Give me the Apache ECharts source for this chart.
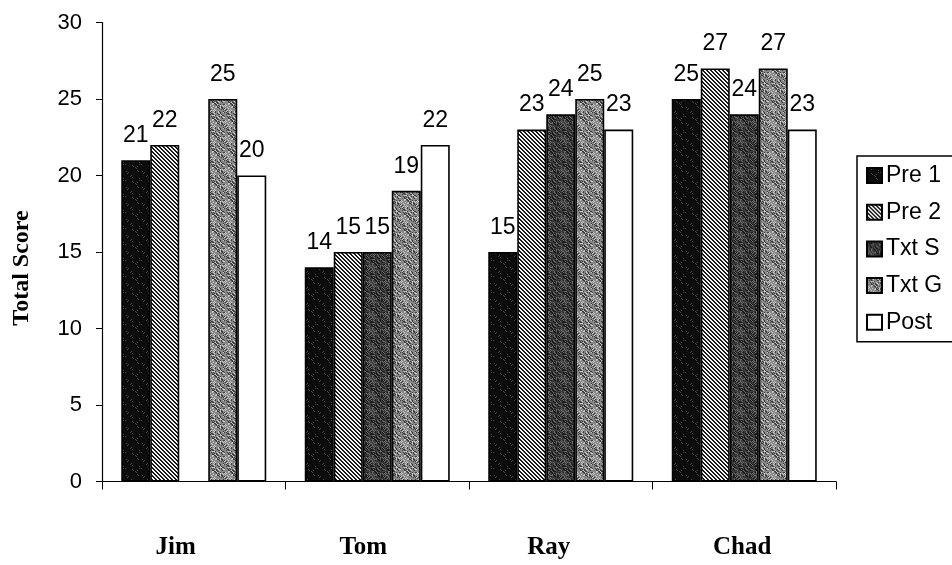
<!DOCTYPE html>
<html>
<head>
<meta charset="utf-8">
<title>Total Score</title>
<script src="https://cdn.jsdelivr.net/npm/echarts@6/dist/echarts.min.js"></script>
<style>
  html, body { margin: 0; padding: 0; background: #fff; }
  #chart { width: 952px; height: 565px; }
</style>
</head>
<body>
<div id="chart"></div>
<script>
// Scores per student for each assessment phase
const students = ['Jim', 'Tom', 'Ray', 'Chad'];
const pre1 = [21, 14, 15, 25];
const pre2 = [22, 15, 23, 27];
const txtS = [null, 15, 24, 24];
const txtG = [25, 19, 25, 27];
const post = [20, 22, 23, 23];
const seriesNames = ['Pre 1', 'Pre 2', 'Txt S', 'Txt G', 'Post'];
const yTicks = { min: 0, max: 30, step: 5 };

// Small print-style fill textures built on a canvas tile
function tile(pixel) {
  const n = 16;
  const c = document.createElement('canvas');
  c.width = n; c.height = n;
  const ctx = c.getContext('2d');
  const img = ctx.createImageData(n, n);
  for (let y = 0; y < n; y++) {
    for (let x = 0; x < n; x++) {
      const v = pixel(x, y);
      const i = (y * n + x) * 4;
      img.data[i] = img.data[i + 1] = img.data[i + 2] = v;
      img.data[i + 3] = 255;
    }
  }
  ctx.putImageData(img, 0, 0);
  return { image: c, repeat: 'repeat' };
}
function grain(x, y) {
  return ((x * 37 + y * 91 + x * y * 13 + (x ^ y) * 7) % 17);
}
const fills = [
  tile((x, y) => { const h = grain(x, y); return h === 3 ? 70 : 12; }),
  tile((x, y) => ((((x - y) % 4) + 4) % 4) < 2 ? 25 : 245),
  tile((x, y) => { const h = grain(x, y); return h < 5 ? 25 : (h > 12 ? 110 : 58); }),
  tile((x, y) => { const h = grain(x, y); return h < 4 ? 60 : (h > 13 ? 205 : 135); }),
  '#ffffff'
];

const values = [pre1, pre2, txtS, txtG, post];
const series = seriesNames.map((name, k) => ({
  name: name,
  type: 'bar',
  data: values[k],
  barWidth: 29,
  barGap: '0%',
  itemStyle: { color: fills[k], borderColor: '#000', borderWidth: 1.6 },
  label: {
    show: true,
    position: 'top',
    distance: 13,
    fontSize: 23,
    fontFamily: '"Liberation Sans", Arial, sans-serif',
    color: '#000'
  }
}));

// Horizontal nudges for each category caption (px, negative = left)
const captionShift = { Jim: -18, Tom: -14, Ray: -12, Chad: -2 };

const chart = echarts.init(document.getElementById('chart'), null, { renderer: 'canvas' });
chart.setOption({
  animation: false,
  backgroundColor: '#fff',
  grid: { left: 102, right: 116, top: 22.5, bottom: 83.5, containLabel: false },
  legend: {
    orient: 'vertical',
    left: 857,
    top: 156,
    icon: 'rect',
    itemWidth: 15,
    itemHeight: 15,
    itemGap: 13.7,
    padding: [8, 80, 8, 9],
    borderColor: '#000',
    borderWidth: 1.5,
    selectedMode: false,
    textStyle: {
      fontSize: 23,
      fontFamily: '"Liberation Sans", Arial, sans-serif',
      color: '#000',
      padding: [0, 0, 0, -1]
    },
    data: seriesNames
  },
  xAxis: {
    type: 'category',
    data: students,
    axisLine: { lineStyle: { color: '#000', width: 1.2 } },
    axisTick: { show: true, length: 8, lineStyle: { color: '#000' } },
    axisLabel: {
      margin: 54,
      formatter: function (v) { return '{' + v + '|' + v + '}'; },
      rich: Object.fromEntries(students.map(s => [s, {
        fontSize: 25,
        fontWeight: 'bold',
        fontFamily: '"Liberation Serif", "Times New Roman", serif',
        color: '#000',
        padding: [0, Math.max(0, -2 * captionShift[s]), 0, Math.max(0, 2 * captionShift[s])]
      }]))
    },
    splitLine: { show: false }
  },
  yAxis: {
    type: 'value',
    min: yTicks.min,
    max: yTicks.max,
    interval: yTicks.step,
    axisLine: { show: true, lineStyle: { color: '#000', width: 1.2 } },
    axisTick: { show: true, length: 6, lineStyle: { color: '#000' } },
    axisLabel: {
      margin: 20,
      fontSize: 22,
      fontFamily: '"Liberation Sans", Arial, sans-serif',
      color: '#000'
    },
    splitLine: { show: false }
  },
  graphic: [{
    type: 'text',
    x: 22,
    y: 268,
    rotation: Math.PI / 2,
    style: {
      text: 'Total Score',
      font: 'bold 24px "Liberation Serif", "Times New Roman", serif',
      fill: '#000',
      align: 'center',
      verticalAlign: 'middle'
    }
  }],
  series: series
});
</script>
</body>
</html>
